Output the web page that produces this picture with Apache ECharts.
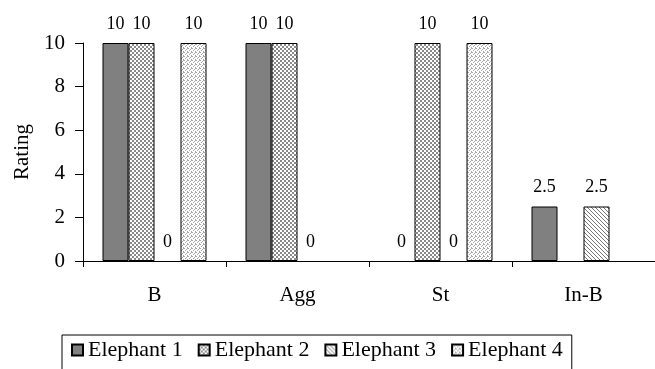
<!DOCTYPE html>
<html>
<head>
<meta charset="utf-8">
<script src="https://cdn.jsdelivr.net/npm/echarts@6/dist/echarts.min.js"></script>
<style>
  html, body { margin: 0; padding: 0; background: #fff; }
  #chart { width: 655px; height: 369px; }
</style>
</head>
<body>
<div id="chart"></div>
<script>
var categories = ['B', 'Agg', 'St', 'In-B'];
var seriesNames = ['Elephant 1', 'Elephant 2', 'Elephant 3', 'Elephant 4'];
var elephant1 = [10, 10, 0, 2.5];
var elephant2 = [10, 10, 10, null];
var elephant3 = [0, 0, 0, 2.5];
var elephant4 = [10, null, 10, null];
var yTicks = [0, 2, 4, 6, 8, 10];

var FONT = '"Liberation Serif", "Times New Roman", serif';

// small canvas fills to mimic the Excel hatch patterns
function makePattern(size, draw) {
  var c = document.createElement('canvas');
  c.width = size; c.height = size;
  var ctx = c.getContext('2d');
  ctx.fillStyle = '#fff';
  ctx.fillRect(0, 0, size, size);
  draw(ctx);
  return { image: c, repeat: 'repeat' };
}

var checker = makePattern(4, function(ctx) {
  ctx.fillStyle = '#8a8a8a';
  ctx.fillRect(0, 0, 2, 2);
  ctx.fillRect(2, 2, 2, 2);
});

var hatch = makePattern(4, function(ctx) {
  ctx.fillStyle = '#777';
  for (var i = 0; i < 4; i++) ctx.fillRect(i, i, 1, 1);
});

var speckle = makePattern(4, function(ctx) {
  ctx.fillStyle = '#a8a8a8';
  [[0, 0], [2, 1], [1, 2], [3, 3], [3, 0]].forEach(function(p) { ctx.fillRect(p[0], p[1], 1, 1); });
});

var fills = ['#808080', checker, hatch, speckle];
var values = [elephant1, elephant2, elephant3, elephant4];

var chart = echarts.init(document.getElementById('chart'), null, { renderer: 'canvas' });

var series = seriesNames.map(function(name, i) {
  return {
    name: name,
    type: 'bar',
    // zero bars only carry their label, no outline
    data: values[i].map(function(v) {
      return v === 0 ? { value: v, itemStyle: { borderWidth: 0 } } : v;
    }),
    barWidth: 26,
    barGap: '0%',
    itemStyle: { color: fills[i], borderColor: '#000', borderWidth: 1 },
    label: {
      show: true, position: 'top', distance: 10,
      color: '#000', fontFamily: FONT, fontSize: 18
    }
  };
});

chart.setOption({
  animation: false,
  backgroundColor: '#fff',
  grid: { left: 83, top: 43, width: 580, height: 218 },
  legend: {
    left: 62, top: 335,
    padding: [4, 9, 30, 9],
    itemWidth: 11, itemHeight: 11, itemGap: 15,
    borderColor: '#000', borderWidth: 1,
    icon: 'rect',
    textStyle: { color: '#000', fontFamily: FONT, fontSize: 22 },
    data: seriesNames
  },
  xAxis: {
    type: 'category',
    data: categories,
    axisLine: { lineStyle: { color: '#000', width: 1 } },
    axisTick: { show: true, length: 6, lineStyle: { color: '#000' } },
    axisLabel: { color: '#000', fontFamily: FONT, fontSize: 21, margin: 24 }
  },
  yAxis: {
    type: 'value',
    min: 0, max: 10, interval: 2,
    name: 'Rating',
    nameLocation: 'middle',
    nameGap: 50,
    nameTextStyle: { color: '#000', fontFamily: FONT, fontSize: 21 },
    axisLine: { show: true, lineStyle: { color: '#000', width: 1 } },
    axisTick: { show: true, length: 8, lineStyle: { color: '#000' } },
    axisLabel: {
      color: '#000', fontFamily: FONT, fontSize: 21, margin: 18,
      formatter: function(v) { return yTicks.indexOf(v) >= 0 ? String(v) : ''; }
    },
    splitLine: { show: false }
  },
  series: series
});
</script>
</body>
</html>
